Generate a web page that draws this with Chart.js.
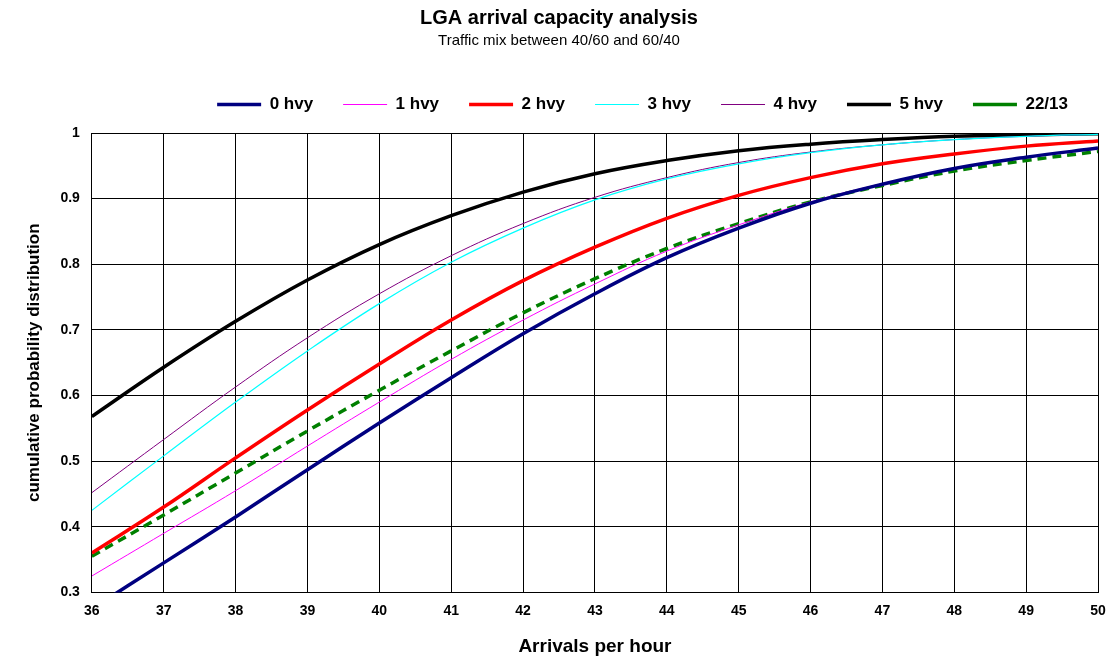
<!DOCTYPE html>
<html>
<head>
<meta charset="utf-8">
<script src="https://cdn.jsdelivr.net/npm/chart.js@4/dist/chart.umd.min.js"></script>
<style>
  body { margin: 0; background: #fff; }
  canvas { display: block; }
</style>
</head>
<body>
<canvas id="chart" width="1116" height="664"></canvas>
<script>
// Données
const arrivals = [36, 37, 38, 39, 40, 41, 42, 43, 44, 45, 46, 47, 48, 49, 50];
const hvy0 = [0.275, 0.345, 0.415, 0.487, 0.558, 0.627, 0.694, 0.755, 0.81, 0.855, 0.893, 0.922, 0.946, 0.963, 0.977];
const hvy1 = [0.325, 0.39, 0.455, 0.523, 0.59, 0.655, 0.715, 0.77, 0.82, 0.86, 0.895, 0.923, 0.946, 0.963, 0.976];
const hvy2 = [0.36, 0.43, 0.505, 0.578, 0.648, 0.715, 0.775, 0.826, 0.87, 0.905, 0.932, 0.953, 0.968, 0.98, 0.988];
const hvy3 = [0.425, 0.508, 0.59, 0.668, 0.74, 0.803, 0.855, 0.898, 0.93, 0.953, 0.97, 0.982, 0.99, 0.995, 0.998];
const hvy4 = [0.452, 0.533, 0.613, 0.688, 0.755, 0.813, 0.862, 0.902, 0.932, 0.955, 0.971, 0.982, 0.99, 0.995, 0.998];
const hvy5 = [0.568, 0.643, 0.713, 0.776, 0.83, 0.874, 0.91, 0.938, 0.958, 0.973, 0.983, 0.99, 0.995, 0.997, 0.999];
const mix2213 = [0.355, 0.418, 0.482, 0.546, 0.608, 0.668, 0.726, 0.778, 0.824, 0.862, 0.895, 0.92, 0.942, 0.958, 0.972];

const toXY = vals => vals.map((v, i) => ({ x: arrivals[i], y: v }));

function serie(label, vals, color, width, dash) {
    return {
        label: label,
        data: toXY(vals),
        borderColor: color,
        backgroundColor: color,
        borderWidth: width,
        borderDash: dash || [],
        pointRadius: 0,
        tension: 0.4,
        fill: false
    };
}

const font = 'Arial, "Liberation Sans", sans-serif';

const chart = new Chart(document.getElementById('chart').getContext('2d'), {
    type: 'line',
    data: {
        datasets: [
            serie('0 hvy', hvy0, '#000080', 3.5),
            serie('1 hvy', hvy1, '#ff00ff', 1),
            serie('2 hvy', hvy2, '#ff0000', 3.5),
            serie('3 hvy', hvy3, '#00ffff', 1.2),
            serie('4 hvy', hvy4, '#800080', 1),
            serie('5 hvy', hvy5, '#000000', 3.5),
            serie('22/13', mix2213, '#008000', 3.5, [9, 6])
        ]
    },
    options: {
        responsive: false,
        animation: false,
        layout: { padding: { left: 20, right: 18, top: 2, bottom: 2 } },
        plugins: {
            title: {
                display: true,
                text: 'LGA arrival capacity analysis',
                color: '#000',
                font: { family: font, size: 20, weight: 'bold' },
                padding: { top: 4, bottom: 2 }
            },
            subtitle: {
                display: true,
                text: 'Traffic mix between 40/60 and 60/40',
                color: '#000',
                font: { family: font, size: 15 },
                padding: { bottom: 16 }
            },
            legend: {
                align: 'end',
                labels: {
                    color: '#000',
                    font: { family: font, size: 17, weight: 'bold' },
                    usePointStyle: true,
                    pointStyle: 'line',
                    pointStyleWidth: 44,
                    padding: 30
                }
            },
            tooltip: { enabled: false }
        },
        scales: {
            x: {
                type: 'linear',
                min: 36,
                max: 50,
                border: { color: '#000', width: 1 },
                grid: { color: '#000', lineWidth: 1, drawTicks: false },
                ticks: { stepSize: 1, color: '#000', padding: 10, font: { family: font, size: 14, weight: 'bold' } },
                title: { display: true, text: 'Arrivals per hour', color: '#000', font: { family: font, size: 19, weight: 'bold' }, padding: { top: 6 } }
            },
            y: {
                min: 0.3,
                max: 1,
                border: { color: '#000', width: 1 },
                grid: { color: '#000', lineWidth: 1, drawTicks: false },
                ticks: {
                    stepSize: 0.1,
                    color: '#000',
                    padding: 12,
                    font: { family: font, size: 14, weight: 'bold' },
                    callback: v => Math.round(v * 10) / 10
                },
                title: { display: true, text: 'cumulative probability distribution', color: '#000', font: { family: font, size: 17, weight: 'bold' } }
            }
        }
    }
});

// Espace supplémentaire sous la légende
const fitOrig = chart.legend.fit;
chart.legend.fit = function() {
    fitOrig.call(this);
    this.height += 10;
};
chart.update();
</script>
</body>
</html>
